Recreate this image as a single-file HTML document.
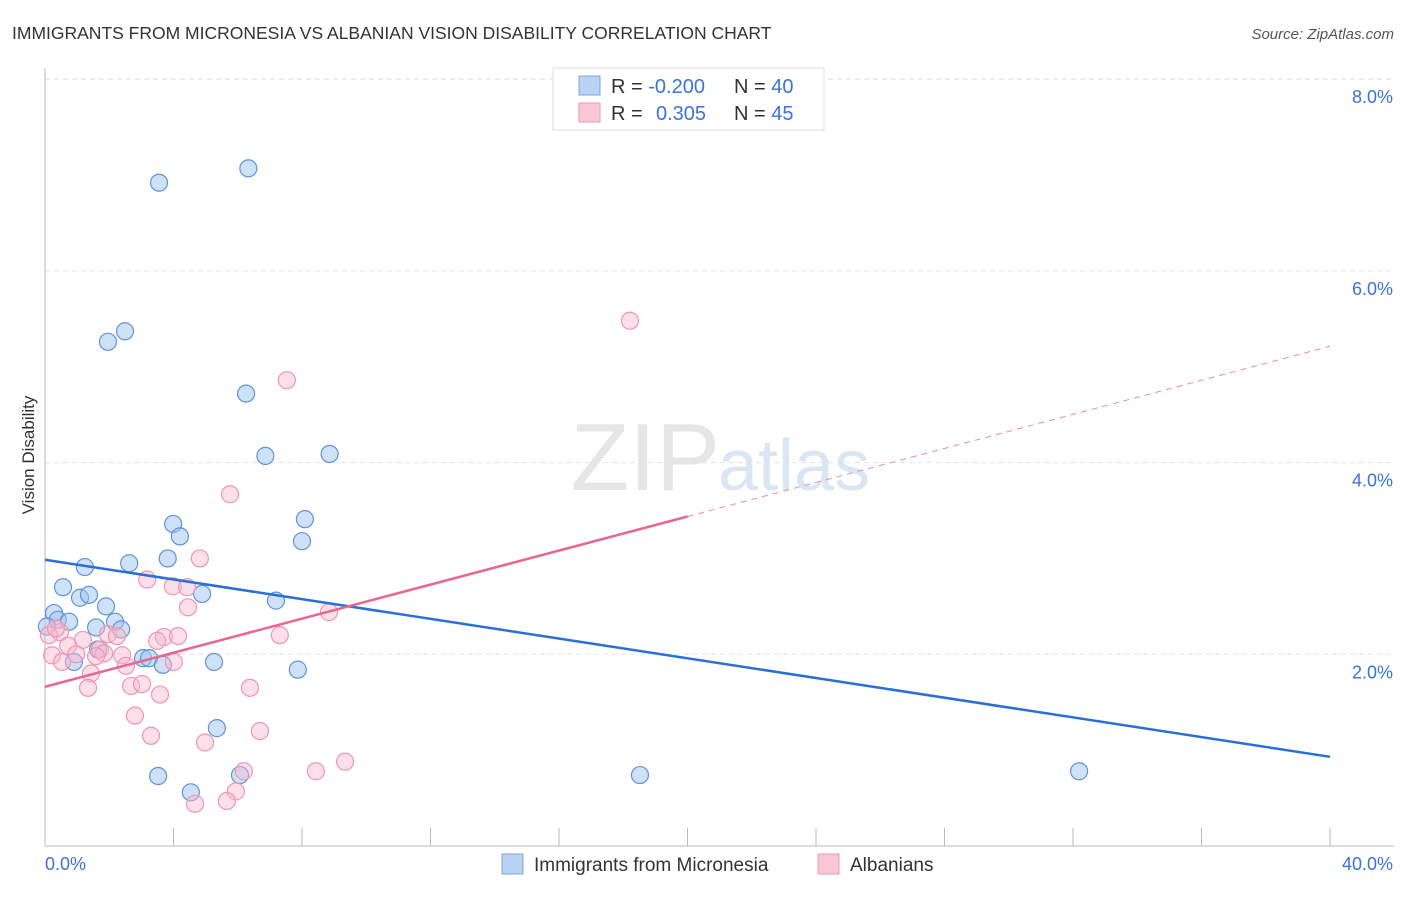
<!DOCTYPE html>
<html><head><meta charset="utf-8"><style>
body{margin:0;background:#fff;font-family:"Liberation Sans",sans-serif;}
svg text{font-family:"Liberation Sans",sans-serif;}
</style></head><body>
<svg id="c" width="1406" height="892">
<text x="12" y="39" font-size="17.5" fill="#333">IMMIGRANTS FROM MICRONESIA VS ALBANIAN VISION DISABILITY CORRELATION CHART</text>
<text x="1394" y="39" font-size="15" fill="#555" text-anchor="end" font-style="italic">Source: ZipAtlas.com</text>
<text x="720" y="490" font-size="96" fill="#e6e6e6" text-anchor="end" font-family="Liberation Serif">ZIP</text>
<text x="718" y="490" font-size="72" fill="#dbe6f4">atlas</text>
<text x="34" y="455" font-size="17" fill="#333" text-anchor="middle" transform="rotate(-90 34 455)">Vision Disability</text>
<g id="grid"></g><g id="axes"></g><g id="pts"></g><g id="lines"></g>
<g>
<rect x="553" y="68" width="271" height="62" fill="#fff" stroke="#ddd"/>
<rect x="579" y="76" width="21" height="19" fill="#b9d3f3" stroke="#7aa6e0"/>
<rect x="579" y="103" width="21" height="19" fill="#f9c6d5" stroke="#ee9ab3"/>
<text x="611" y="93" font-size="20" fill="#333">R = <tspan fill="#3b73d6">-0.200</tspan></text>
<text x="734" y="93" font-size="20" fill="#333">N = <tspan fill="#3b73d6">40</tspan></text>
<text x="611" y="120" font-size="20" fill="#333">R = <tspan fill="#3b73d6" x="656">0.305</tspan></text>
<text x="734" y="120" font-size="20" fill="#333">N = <tspan fill="#3b73d6">45</tspan></text>
</g>
<g>
<rect x="502" y="854" width="21" height="20" fill="#b9d3f3" stroke="#7aa6e0"/>
<text x="534" y="871" font-size="19" fill="#333">Immigrants from Micronesia</text>
<rect x="818" y="854" width="21" height="20" fill="#f9c6d5" stroke="#ee9ab3"/>
<text x="850" y="871" font-size="19" fill="#333">Albanians</text>
</g>
</svg>
<script>
const ns="http://www.w3.org/2000/svg";
const yTicks=[2,4,6,8];
const xTickLabels=["0.0%","40.0%"];
const blueX=[3.55,6.33,2.49,1.96,6.26,6.86,8.86,3.99,4.2,8.09,3.82,2.62,8.0,1.24,0.56,1.09,1.37,4.89,1.9,7.19,0.28,0.4,0.75,0.06,2.18,1.59,2.37,1.65,3.05,3.24,0.9,3.67,5.26,7.87,5.35,3.52,6.07,4.54,18.52,32.19];
const blueY=[6.92,7.07,5.37,5.26,4.72,4.07,4.09,3.36,3.23,3.41,3.0,2.95,3.18,2.91,2.7,2.59,2.62,2.63,2.5,2.56,2.43,2.36,2.34,2.29,2.34,2.28,2.26,2.05,1.96,1.96,1.92,1.89,1.92,1.84,1.23,0.73,0.74,0.56,0.74,0.78];
const pinkX=[18.21,7.53,5.76,4.82,3.18,3.98,4.42,4.45,8.84,0.47,0.12,1.18,1.96,2.24,3.7,4.14,3.49,7.31,0.72,1.71,0.97,0.22,1.84,2.4,0.53,1.43,2.52,4.01,1.34,2.68,3.02,3.58,6.38,2.8,3.3,4.98,6.69,6.19,8.43,9.34,5.94,5.66,4.67,1.59,0.34];
const pinkY=[5.48,4.86,3.67,3.0,2.78,2.71,2.7,2.49,2.44,2.23,2.2,2.15,2.21,2.19,2.18,2.19,2.14,2.2,2.09,2.05,2.0,1.99,2.01,1.99,1.92,1.80,1.88,1.92,1.65,1.67,1.69,1.58,1.65,1.36,1.15,1.08,1.2,0.78,0.78,0.88,0.57,0.47,0.44,1.98,2.27];
const X=v=>45+v/40*1285, Y=v=>846-v*95.85;
function mk(t,a,p){const e=document.createElementNS(ns,t);for(const k in a)e.setAttribute(k,a[k]);document.getElementById(p).appendChild(e);return e;}
mk("line",{x1:45,x2:1394,y1:79,y2:79,stroke:"#ddd","stroke-dasharray":"5,4"},"grid");
yTicks.forEach(v=>{
 const l=mk("line",{x1:45,x2:1394,y1:Y(v),y2:Y(v),stroke:"#e3e3e3","stroke-dasharray":"5,4"},"grid");
 
 
 const t=mk("text",{x:1393,y:Y(v)+24,"font-size":18,fill:"#3b73d6","text-anchor":"end"},"axes");
 t.textContent=v.toFixed(1)+"%";
 
 
});
mk("line",{x1:45,x2:45,y1:68,y2:846,stroke:"#bbb"},"axes");
mk("line",{x1:45,x2:1394,y1:846,y2:846,stroke:"#bbb"},"axes");
for(let i=0;i<=10;i++){const t=mk("line",{x1:X(i*4),x2:X(i*4),y1:828,y2:846,stroke:"#bbb"},"axes");
 
 }
const t0=mk("text",{x:45,y:870,"font-size":18,fill:"#3b73d6"},"axes");t0.textContent=xTickLabels[0];


const t1=mk("text",{x:1393,y:870,"font-size":18,fill:"#3b73d6","text-anchor":"end"},"axes");t1.textContent=xTickLabels[1];


blueX.forEach((v,i)=>{const c=mk("circle",{cx:X(v),cy:Y(blueY[i]),r:8.5,fill:"rgba(160,196,240,0.5)",stroke:"#5f93dc","stroke-width":1.2},"pts");
 
 });
pinkX.forEach((v,i)=>{const c=mk("circle",{cx:X(v),cy:Y(pinkY[i]),r:8.5,fill:"rgba(248,185,205,0.45)",stroke:"#ef96b2","stroke-width":1.2},"pts");
 
 });
function fit(xs,ys){const n=xs.length,mx=xs.reduce((a,b)=>a+b)/n,my=ys.reduce((a,b)=>a+b)/n;let sxy=0,sxx=0;xs.forEach((x,i)=>{sxy+=(x-mx)*(ys[i]-my);sxx+=(x-mx)**2});const b=sxy/sxx;return[my-b*mx,b];}
const [ba,bb]=fit(blueX,blueY),[pa,pb]=fit(pinkX,pinkY);
let l=mk("line",{x1:X(0),y1:Y(ba),x2:X(40),y2:Y(ba+bb*40),stroke:"#2a6fd6","stroke-width":2.5},"lines");


l=mk("line",{x1:X(0),y1:Y(pa),x2:X(20),y2:Y(pa+pb*20),stroke:"#e8668f","stroke-width":2.5},"lines");


l=mk("line",{x1:X(20),y1:Y(pa+pb*20),x2:X(40),y2:Y(pa+pb*40),stroke:"#eb8aa8","stroke-width":1,"stroke-dasharray":"6,5"},"lines");


</script>
</body></html>
